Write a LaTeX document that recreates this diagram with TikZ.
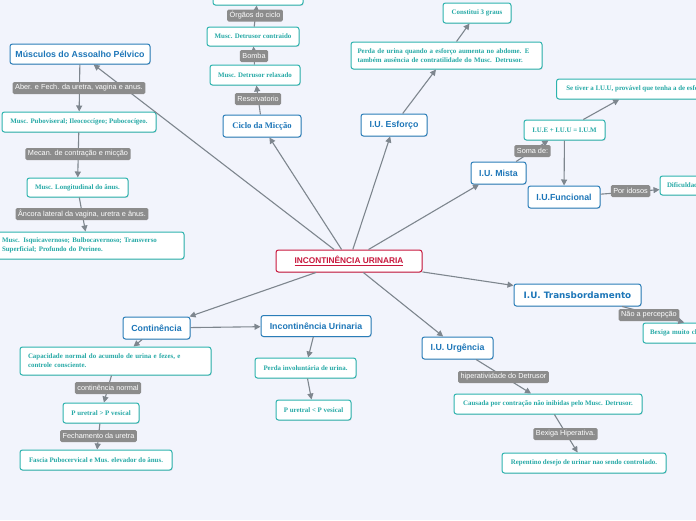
\documentclass[tikz,border=0pt]{standalone}
\usepackage{fontspec}
\setmainfont{Liberation Serif}
\setsansfont{Liberation Sans}
\newfontfamily\dvs{DejaVu Sans}
\usetikzlibrary{arrows.meta,shadows}
\definecolor{bgc}{HTML}{F2F4FC}
\definecolor{mblue}{HTML}{2A7DB8}
\definecolor{mtext}{HTML}{1D76B8}
\definecolor{tborder}{HTML}{2DB3AE}
\definecolor{ttext}{HTML}{26A9A6}
\definecolor{labg}{HTML}{8C8C8C}
\definecolor{lc}{HTML}{7E868E}
\definecolor{cred}{HTML}{C8163C}
\tikzset{
 box/.style={fill=white, rounded corners=2.5pt, line width=1pt, inner sep=2pt,
   drop shadow={shadow xshift=0.7pt, shadow yshift=-0.9pt, opacity=0.22}},
 centralbox/.style={box, draw=cred, text=cred, font=\sffamily\bfseries\fontsize{8.3}{10}\selectfont},
 topic/.style={box, draw=mblue, text=mtext, font=\sffamily\bfseries\fontsize{8.8}{10}\selectfont},
 sub/.style={box, draw=tborder, text=ttext, font=\bfseries\fontsize{6.9}{9}\selectfont},
 lab/.style={fill=labg, text=white, rounded corners=1.5pt, inner xsep=2.5pt, inner ysep=1.5pt,
   minimum height=12pt, font=\sffamily\fontsize{7.3}{8}\selectfont},
 conn/.style={draw=lc, line width=1.1pt, -{Triangle[length=6pt,width=6pt]}},
}
\begin{document}
\begin{tikzpicture}[x=1pt,y=-1pt]
\useasboundingbox (0,0) rectangle (696,520);
\fill[bgc] (0,0) rectangle (696,520);

% central
\node[centralbox, minimum width=146pt, minimum height=22pt] (c) at (349,261) {\underline{INCONTINÊNCIA URINARIA}};

% main topics
\node[topic, minimum width=140pt, minimum height=20pt] (mus) at (80,54) {Músculos do Assoalho Pélvico};
\node[topic, font=\bfseries\fontsize{8.6}{10}\selectfont, minimum width=78pt, minimum height=22pt] (ciclo) at (262,126) {Ciclo da Micção};
\node[topic, minimum width=66pt, minimum height=22pt] (esf) at (394,125) {I.U. Esforço};
\node[topic, minimum width=55pt, minimum height=22pt] (mista) at (498.5,173) {I.U. Mista};
\node[topic, minimum width=72pt, minimum height=22pt] (func) at (564,197) {I.U.Funcional};
\node[topic, font=\dvs\bfseries\fontsize{8.8}{10}\selectfont, minimum width=127pt, minimum height=22pt] (trans) at (577.5,295) {I.U. Transbordamento};
\node[topic, minimum width=71pt, minimum height=22pt] (urg) at (457.5,348) {I.U. Urgência};
\node[topic, minimum width=67pt, minimum height=22pt] (cont) at (156.5,328) {Continência};
\node[topic, minimum width=110pt, minimum height=21pt] (incu) at (316,326) {Incontinência Urinaria};

% sub topics
\node[sub, minimum width=154pt, minimum height=20pt] (pubo) at (79,122) {Musc. Puboviseral; Ileococcígeo; Pubococígeo.};
\node[sub, minimum width=101pt, minimum height=19pt] (longi) at (77.5,187.5) {Musc. Longitudinal do ânus.};
\node[sub, text width=172pt, inner xsep=10pt, align=left, minimum height=27pt] (isq) at (88,245.5) {Musc. Isquicavernoso; Bulbocavernoso; Transverso\\Superficial; Profundo do Perineo.};
\node[sub, minimum width=90pt, minimum height=20pt] (topn) at (258,-5) {};
\node[sub, minimum width=92pt, minimum height=19pt] (contr) at (253,36.5) {Musc. Detrusor contraido};
\node[sub, minimum width=90pt, minimum height=20pt] (relax) at (255,75) {Musc. Detrusor relaxado};
\node[sub, minimum width=68pt, minimum height=20pt] (graus) at (477,13) {Constitui 3 graus};
\node[sub, text width=178pt, inner xsep=6.5pt, align=left, minimum height=27pt] (perdae) at (446.5,55.5) {Perda de urina quando a esforço aumenta no abdome. E\\também ausência de contratilidade do Musc. Detrusor.};
\node[sub, minimum width=81pt, minimum height=20pt] (iue) at (564.5,130) {I.U.E + I.U.U = I.U.M};
\node[sub, minimum width=163pt, minimum height=20pt] (setiver) at (638,89) {Se tiver a I.U.U, provável que tenha a de esforço.};
\node[sub, text width=92pt, inner xsep=7pt, align=left, minimum height=19pt] (dific) at (713,185.5) {Dificuldade};
\node[sub, text width=150pt, inner xsep=7pt, align=left, minimum height=20pt] (bexm) at (725,333) {Bexiga muito cheia.};
\node[sub, text width=175pt, inner xsep=8pt, align=left, minimum height=28pt] (cap) at (115.5,361) {Capacidade normal do acumulo de urina e fezes, e\\controle consciente.};
\node[sub, minimum width=76pt, minimum height=20pt] (pmaior) at (101,413) {P uretral > P vesical};
\node[sub, minimum width=152pt, minimum height=20pt] (fascia) at (96,460) {Fascia Pubocervical e Mus. elevador do ânus.};
\node[sub, minimum width=101pt, minimum height=20pt] (perdai) at (305.5,368) {Perda involuntária de urina.};
\node[sub, minimum width=75pt, minimum height=20pt] (pmenor) at (313.5,410) {P uretral < P vesical};
\node[sub, minimum width=188pt, minimum height=20pt] (causada) at (548,404) {Causada por contração não inibidas pelo Musc. Detrusor.};
\node[sub, minimum width=164pt, minimum height=20pt] (repent) at (584,463) {Repentino desejo de urinar nao sendo controlado.};

% connectors
\draw[conn] (c) -- (mus);
\draw[conn] (c) -- (ciclo);
\draw[conn] (c) -- (esf);
\draw[conn] (c) -- (mista);
\draw[conn] (c) -- (trans);
\draw[conn] (c) -- (urg);
\draw[conn] (c) -- (cont);
\draw[conn] (cont) -- (incu);
\draw[conn] (cont) -- (cap);
\draw[conn] (cap) -- (pmaior);
\draw[conn] (pmaior) -- (fascia);
\draw[conn] (incu) -- (perdai);
\draw[conn] (perdai) -- (pmenor);
\draw[conn] (mus) -- (pubo);
\draw[conn] (pubo) -- (longi);
\draw[conn] (longi) -- (isq);
\draw[conn] (ciclo) -- (relax);
\draw[conn] (relax) -- (contr);
\draw[conn] (contr) -- (topn);
\draw[conn] (esf) -- (perdae);
\draw[conn] (perdae) -- (graus);
\draw[conn] (mista) -- (iue);
\draw[conn] (iue) -- (setiver);
\draw[conn] (iue) -- (func);
\draw[conn] (func) -- (dific);
\draw[conn] (trans) -- (bexm);
\draw[conn] (urg) -- (causada);
\draw[conn] (causada) -- (repent);

% connector labels
\node[lab] (l1) at (79,88) {Aber. e Fech. da uretra, vagina e anus.};
\node[lab] (l2) at (78,154) {Mecan. de contração e micção};
\node[lab] (l3) at (82,214) {Âncora lateral da vagina, uretra e ânus.};
\node[lab] (l4) at (255,15.5) {Órgãos do ciclo};
\node[lab] (l5) at (254,56) {Bomba};
\node[lab] (l6) at (258,99) {Reservatorio};
\node[lab] (l7) at (532.5,151) {Soma de:};
\node[lab] (l8) at (630.5,191) {Por idosos};
\node[lab] (l9) at (649,315) {Não a percepção};
\node[lab] (l10) at (503.5,377) {hiperatividade do Detrusor};
\node[lab] (l11) at (565.5,434) {Bexiga Hiperativa.};
\node[lab] (l12) at (108,388) {continência normal};
\node[lab] (l13) at (98.5,436) {Fechamento da uretra};
\end{tikzpicture}
\end{document}
